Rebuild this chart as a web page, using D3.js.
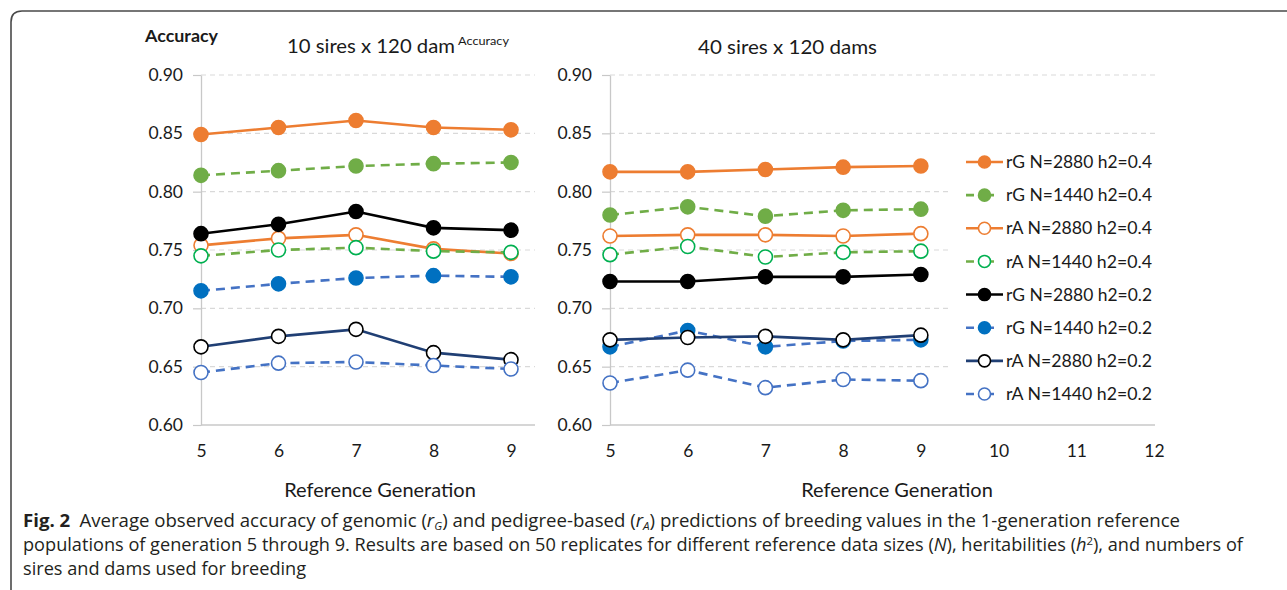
<!DOCTYPE html>
<html>
<head>
<meta charset="utf-8">
<script src="https://cdn.jsdelivr.net/npm/d3@7"></script>
<style>
  html, body { margin: 0; padding: 0; background: #fff; }
  svg { display: block; }
</style>
</head>
<body>
<svg id="fig" width="1287" height="590"></svg>
<script>
// Reference generations (x values)
const generations = [5, 6, 7, 8, 9];

// Series labels, in drawing order
const seriesNames = [
  "rG N=2880 h2=0.4",
  "rG N=1440 h2=0.4",
  "rA N=2880 h2=0.4",
  "rA N=1440 h2=0.4",
  "rG N=2880 h2=0.2",
  "rG N=1440 h2=0.2",
  "rA N=2880 h2=0.2",
  "rA N=1440 h2=0.2"
];

// Accuracy, 10 sires x 120 dams
const rG2880h04_10 = [0.849, 0.855, 0.861, 0.855, 0.853];
const rG1440h04_10 = [0.814, 0.818, 0.822, 0.824, 0.825];
const rA2880h04_10 = [0.754, 0.760, 0.763, 0.751, 0.747];
const rA1440h04_10 = [0.745, 0.750, 0.752, 0.749, 0.748];
const rG2880h02_10 = [0.764, 0.772, 0.783, 0.769, 0.767];
const rG1440h02_10 = [0.715, 0.721, 0.726, 0.728, 0.727];
const rA2880h02_10 = [0.667, 0.676, 0.682, 0.662, 0.656];
const rA1440h02_10 = [0.645, 0.653, 0.654, 0.651, 0.648];

// Accuracy, 40 sires x 120 dams
const rG2880h04_40 = [0.817, 0.817, 0.819, 0.821, 0.822];
const rG1440h04_40 = [0.780, 0.787, 0.779, 0.784, 0.785];
const rA2880h04_40 = [0.762, 0.763, 0.763, 0.762, 0.764];
const rA1440h04_40 = [0.746, 0.753, 0.744, 0.748, 0.749];
const rG2880h02_40 = [0.723, 0.723, 0.727, 0.727, 0.729];
const rG1440h02_40 = [0.667, 0.681, 0.667, 0.672, 0.673];
const rA2880h02_40 = [0.673, 0.675, 0.676, 0.673, 0.677];
const rA1440h02_40 = [0.636, 0.647, 0.632, 0.639, 0.638];

// Axis ticks
const yTicks = [0.60, 0.65, 0.70, 0.75, 0.80, 0.85, 0.90];
const xTicksLeft = [5, 6, 7, 8, 9];
const xTicksRight = [5, 6, 7, 8, 9, 10, 11, 12];

// Text
const yAxisTitle = "Accuracy";
const leftTitle = "10 sires x 120 dam";
const leftTitleNote = "Accuracy";
const rightTitle = "40 sires x 120 dams";
const xAxisTitle = "Reference Generation";

// Line / marker styles per series
const styles = [
  { line: "#ED7D31", dash: null,  fill: "#ED7D31", stroke: "#ED7D31" },
  { line: "#70AD47", dash: "9,6", fill: "#70AD47", stroke: "#70AD47" },
  { line: "#ED7D31", dash: null,  fill: "#fff",    stroke: "#ED7D31" },
  { line: "#70AD47", dash: "9,6", fill: "#fff",    stroke: "#00B050" },
  { line: "#000000", dash: null,  fill: "#000",    stroke: "#000" },
  { line: "#4472C4", dash: "9,6", fill: "#0070C0", stroke: "#0070C0" },
  { line: "#203F74", dash: null,  fill: "#fff",    stroke: "#000" },
  { line: "#4472C4", dash: "9,6", fill: "#fff",    stroke: "#4472C4" }
];

const leftSeries = [rG2880h04_10, rG1440h04_10, rA2880h04_10, rA1440h04_10,
                    rG2880h02_10, rG1440h02_10, rA2880h02_10, rA1440h02_10];
const rightSeries = [rG2880h04_40, rG1440h04_40, rA2880h04_40, rA1440h04_40,
                     rG2880h02_40, rG1440h02_40, rA2880h02_40, rA1440h02_40];

const svg = d3.select("#fig");
const chartFont = "Lato, 'Open Sans', sans-serif";
const textColor = "#1a1a1a";

// Figure frame with rounded top-left corner
svg.append("path")
  .attr("d", "M11,592 L11,22 Q11,11 22,11 L1290,11")
  .attr("fill", "none")
  .attr("stroke", "#4a4a4a")
  .attr("stroke-width", 1.6);

const y = d3.scaleLinear().domain([0.60, 0.90]).range([425, 75]);

function drawPanel(xScale, gridEnd, xTicks, series, xTitleX) {
  const g = svg.append("g");
  const x0 = xScale(5);

  // dashed horizontal gridlines
  g.selectAll("line.grid")
    .data(yTicks.filter(t => t > 0.6))
    .join("line")
    .attr("x1", x0).attr("x2", gridEnd)
    .attr("y1", d => y(d)).attr("y2", d => y(d))
    .attr("stroke", "#d9d9d9")
    .attr("stroke-width", 1.2)
    .attr("stroke-dasharray", "5,4");

  // y axis
  const yAxis = d3.axisLeft(y).tickValues(yTicks).tickFormat(d3.format(".2f"))
    .tickSizeInner(8).tickSizeOuter(0).tickPadding(10);
  const ya = g.append("g").attr("transform", `translate(${x0},0)`).call(yAxis);
  ya.select(".domain").attr("stroke", "#c8c8c8").attr("stroke-width", 1.3);
  ya.selectAll(".tick line").attr("stroke", "#c8c8c8").attr("stroke-width", 1.2);
  ya.selectAll(".tick text").attr("font-family", chartFont).attr("font-size", 17.5)
    .attr("fill", textColor);

  // x baseline
  g.append("line")
    .attr("x1", x0).attr("x2", gridEnd)
    .attr("y1", y(0.60)).attr("y2", y(0.60))
    .attr("stroke", "#c8c8c8").attr("stroke-width", 1.3);

  // x axis tick labels
  const xAxis = d3.axisBottom(xScale).tickValues(xTicks).tickFormat(d3.format("d"))
    .tickSize(0).tickPadding(20);
  const xa = g.append("g").attr("transform", `translate(0,${y(0.60)})`).call(xAxis);
  xa.select(".domain").remove();
  xa.selectAll(".tick text").attr("font-family", chartFont).attr("font-size", 17.5)
    .attr("fill", textColor);

  // x axis title
  g.append("text")
    .attr("x", xTitleX).attr("y", 497)
    .attr("text-anchor", "middle")
    .attr("font-family", chartFont).attr("font-size", 20)
    .attr("fill", textColor)
    .text(xAxisTitle);

  // series lines and markers
  const line = d3.line().x((d, i) => xScale(generations[i])).y(d => y(d));
  series.forEach((vals, si) => {
    const st = styles[si];
    const sg = g.append("g");
    sg.append("path")
      .attr("d", line(vals))
      .attr("fill", "none")
      .attr("stroke", st.line)
      .attr("stroke-width", 2.6)
      .attr("stroke-dasharray", st.dash);
    sg.selectAll("circle")
      .data(vals)
      .join("circle")
      .attr("cx", (d, i) => xScale(generations[i]))
      .attr("cy", d => y(d))
      .attr("r", 7)
      .attr("fill", st.fill)
      .attr("stroke", st.stroke)
      .attr("stroke-width", 1.6);
  });
  return g;
}

const xLeft = d3.scaleLinear().domain([5, 9]).range([201, 511]);
const xRight = d3.scaleLinear().domain([5, 12]).range([610, 1154]);

drawPanel(xLeft, 535, xTicksLeft, leftSeries, 380);
drawPanel(xRight, 1155, xTicksRight, rightSeries, 897);

// Titles
svg.append("text")
  .attr("x", 145).attr("y", 42)
  .attr("font-family", chartFont).attr("font-size", 17.5).attr("font-weight", 700)
  .attr("fill", textColor)
  .attr("textLength", 73).attr("lengthAdjust", "spacingAndGlyphs")
  .text(yAxisTitle);

svg.append("text")
  .attr("x", 287).attr("y", 53)
  .attr("font-family", chartFont).attr("font-size", 20)
  .attr("fill", textColor)
  .attr("textLength", 168).attr("lengthAdjust", "spacingAndGlyphs")
  .text(leftTitle);

svg.append("text")
  .attr("x", 458).attr("y", 45)
  .attr("font-family", chartFont).attr("font-size", 12)
  .attr("fill", textColor)
  .attr("textLength", 51).attr("lengthAdjust", "spacingAndGlyphs")
  .text(leftTitleNote);

svg.append("text")
  .attr("x", 698).attr("y", 54)
  .attr("font-family", chartFont).attr("font-size", 20)
  .attr("fill", textColor)
  .attr("textLength", 179).attr("lengthAdjust", "spacingAndGlyphs")
  .text(rightTitle);

// Legend
const legend = svg.append("g");
legend.append("rect")
  .attr("x", 948).attr("y", 145).attr("width", 215).attr("height", 265)
  .attr("fill", "#fff");
const legendRow = d3.scaleLinear().domain([0, 7]).range([162, 394]);
seriesNames.forEach((name, i) => {
  const st = styles[i];
  const ly = legendRow(i);
  legend.append("line")
    .attr("x1", 966).attr("x2", 1003).attr("y1", ly).attr("y2", ly)
    .attr("stroke", st.line).attr("stroke-width", 2.6)
    .attr("stroke-dasharray", st.dash ? "8,12" : null);
  legend.append("circle")
    .attr("cx", 984.5).attr("cy", ly).attr("r", 6)
    .attr("fill", st.fill).attr("stroke", st.stroke).attr("stroke-width", 1.6);
  legend.append("text")
    .attr("x", 1006).attr("y", ly).attr("dy", "0.36em")
    .attr("font-family", chartFont).attr("font-size", 17)
    .attr("fill", textColor)
    .attr("textLength", 146).attr("lengthAdjust", "spacingAndGlyphs")
    .text(name);
});

// Caption
const capFont = "'Open Sans', 'Noto Sans', sans-serif";
const capColor = "#231f20";
const cap = svg.append("g")
  .attr("font-family", capFont).attr("font-size", 17.5).attr("fill", capColor);

const line1 = cap.append("text").attr("x", 23).attr("y", 527);
line1.append("tspan").attr("font-weight", 700).text("Fig. 2");
line1.append("tspan").text("\u2002Average observed accuracy of genomic (");
line1.append("tspan").attr("font-style", "italic").text("r");
line1.append("tspan").attr("font-style", "italic").attr("font-size", 11).attr("dy", 3).text("G");
line1.append("tspan").attr("dy", -3).text(") and pedigree-based (");
line1.append("tspan").attr("font-style", "italic").text("r");
line1.append("tspan").attr("font-style", "italic").attr("font-size", 11).attr("dy", 3).text("A");
line1.append("tspan").attr("dy", -3).text(") predictions of breeding values in the 1-generation reference");

const line2 = cap.append("text").attr("x", 23).attr("y", 551);
line2.append("tspan").text("populations of generation 5 through 9. Results are based on 50 replicates for different reference data sizes (");
line2.append("tspan").attr("font-style", "italic").text("N");
line2.append("tspan").text("), heritabilities (");
line2.append("tspan").attr("font-style", "italic").text("h");
line2.append("tspan").attr("font-size", 11).attr("dy", -6).text("2");
line2.append("tspan").attr("dy", 6).text("), and numbers of");

const line3 = cap.append("text").attr("x", 23).attr("y", 575)
  .text("sires and dams used for breeding");

// condense the caption lines to the text column
const squeeze = 1220 / line2.node().getComputedTextLength();
const line3Width = line3.node().getComputedTextLength() * squeeze;
line1.attr("textLength", 1157).attr("lengthAdjust", "spacingAndGlyphs");
line2.attr("textLength", 1220).attr("lengthAdjust", "spacingAndGlyphs");
line3.attr("textLength", line3Width).attr("lengthAdjust", "spacingAndGlyphs");
</script>
</body>
</html>
